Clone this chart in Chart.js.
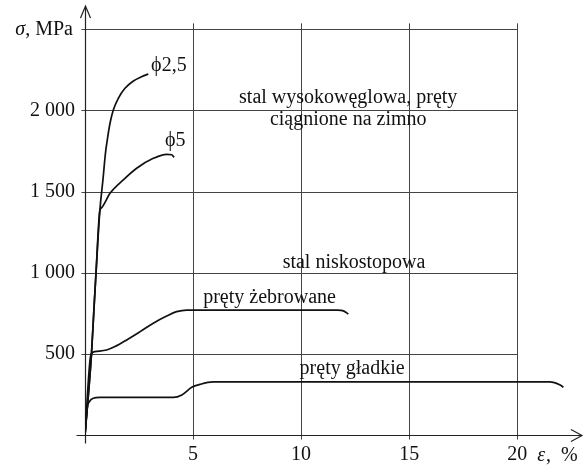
<!DOCTYPE html>
<html>
<head>
<meta charset="utf-8">
<script src="https://cdn.jsdelivr.net/npm/chart.js@4"></script>
<style>
  html, body { margin: 0; padding: 0; background: #fff; }
  #wrap { width: 584px; height: 466px; position: relative; }
</style>
</head>
<body>
<div id="wrap"><canvas id="chart"></canvas></div>
<script>
// strain ε (%) and stress σ (MPa)
var phi25Eps   = [0, 0.30, 0.42, 0.51, 0.69, 0.83, 0.95, 1.03, 1.16, 1.31, 1.54, 1.85, 2.24, 2.62, 2.93];
var phi25Sigma = [0, 500, 790, 1000, 1387, 1572, 1740, 1818, 1923, 2003, 2075, 2137, 2182, 2208, 2225];

var phi5Eps   = [0, 0.30, 0.42, 0.51, 0.69, 0.74, 1.16, 1.77, 2.39, 3.16, 3.78, 4.01, 4.12];
var phi5Sigma = [0, 500, 790, 1000, 1387, 1397, 1490, 1572, 1644, 1705, 1730, 1727, 1711];

var ribbedEps   = [0, 0.27, 0.46, 1.00, 1.39, 1.93, 2.55, 3.16, 3.78, 4.24, 4.71, 11.70, 11.96, 12.19];
var ribbedSigma = [0, 493, 514, 524, 545, 586, 637, 689, 733, 760, 770, 770, 765, 746];

var plainEps   = [0, 0.11, 0.20, 0.38, 0.69, 4.09, 4.48, 4.94, 5.32, 5.93, 21.50, 21.99, 22.14];
var plainSigma = [0, 174, 205, 226, 232, 232, 247, 294, 312, 327, 327, 308, 294];

var xTicks = [5, 10, 15, 20];
var yTicks = [0, 500, 1000, 1500, 2000, 2500];

function pairs(xs, ys) {
    return xs.map(function (x, i) { return { x: x, y: ys[i] }; });
}

function spaced(v) {
    return String(v).replace(/\B(?=(\d{3})+(?!\d))/g, ' ');
}

var serif = '"Liberation Serif", "Times New Roman", serif';
Chart.defaults.font.family = serif;
Chart.defaults.font.size = 20;
Chart.defaults.color = '#111';

// text placed in data units so it follows the scales
var notes = [
    { t: 'ϕ2,5', x: 3.06, y: 2243, align: 'left' },
    { t: 'ϕ5', x: 3.70, y: 1781, align: 'left' },
    { t: 'stal wysokowęglowa, pręty', x: 12.18, y: 2046, align: 'center' },
    { t: 'ciągnione na zimno', x: 12.18, y: 1910, align: 'center' },
    { t: 'stal niskostopowa', x: 12.45, y: 1029, align: 'center' },
    { t: 'pręty żebrowane', x: 8.54, y: 813, align: 'center' },
    { t: 'pręty gładkie', x: 12.36, y: 376, align: 'center' }
];

var frame = {
    id: 'frame',
    beforeDatasetsDraw: function (chart) {
        var ctx = chart.ctx, xs = chart.scales.x, ys = chart.scales.y;
        var x0 = Math.round(xs.getPixelForValue(0)) + 0.5;
        var xEnd = xs.getPixelForValue(xTicks[xTicks.length - 1]);
        var y0 = Math.round(ys.getPixelForValue(0)) + 0.5;
        var yTop = ys.getPixelForValue(yTicks[yTicks.length - 1]);

        ctx.save();
        ctx.strokeStyle = '#444';
        ctx.lineWidth = 1;
        ctx.beginPath();
        yTicks.forEach(function (v) {
            if (v === 0) return;
            var y = Math.round(ys.getPixelForValue(v)) + 0.5;
            ctx.moveTo(x0 - 4, y);
            ctx.lineTo(xEnd, y);
        });
        xTicks.forEach(function (v) {
            var x = Math.round(xs.getPixelForValue(v)) + 0.5;
            ctx.moveTo(x, yTop - 6);
            ctx.lineTo(x, y0 + 4);
        });
        ctx.stroke();

        // axes with open arrow heads
        ctx.strokeStyle = '#222';
        ctx.lineWidth = 1.2;
        ctx.beginPath();
        ctx.moveTo(x0, y0 + 8);
        ctx.lineTo(x0, ys.top + 1);
        ctx.moveTo(x0 - 5, ys.top + 13);
        ctx.lineTo(x0, ys.top + 1);
        ctx.lineTo(x0 + 5, ys.top + 13);
        ctx.moveTo(x0 - 9, y0);
        ctx.lineTo(xs.right, y0);
        ctx.moveTo(xs.right - 11, y0 - 6);
        ctx.lineTo(xs.right, y0);
        ctx.lineTo(xs.right - 11, y0 + 6);
        ctx.stroke();
        ctx.restore();
    },
    afterDraw: function (chart) {
        var ctx = chart.ctx, xs = chart.scales.x, ys = chart.scales.y;
        ctx.save();
        ctx.fillStyle = '#111';
        ctx.textBaseline = 'alphabetic';
        ctx.font = '20px ' + serif;
        notes.forEach(function (n) {
            ctx.textAlign = n.align;
            ctx.fillText(n.t, xs.getPixelForValue(n.x), ys.getPixelForValue(n.y));
        });

        // axis titles
        var x0 = xs.getPixelForValue(0);
        var yTop = ys.getPixelForValue(yTicks[yTicks.length - 1]);
        ctx.textAlign = 'left';
        var rest = ', MPa';
        var restW = ctx.measureText(rest).width;
        var rx = x0 - 12 - restW;
        ctx.fillText(rest, rx, yTop + 6);
        ctx.font = 'italic 20px ' + serif;
        var sw = ctx.measureText('σ').width;
        ctx.fillText('σ', rx - sw, yTop + 6);

        var ex = xs.getPixelForValue(xTicks[xTicks.length - 1]) + 20;
        var ey = ys.getPixelForValue(0) + 26;
        ctx.fillText('ε', ex, ey);
        var ew = ctx.measureText('ε').width;
        ctx.font = '20px ' + serif;
        ctx.fillText(',  %', ex + ew + 1, ey);
        ctx.restore();
    }
};

function curve(data) {
    return {
        data: data,
        borderColor: '#111',
        borderWidth: 1.7,
        pointRadius: 0,
        fill: false,
        cubicInterpolationMode: 'monotone'
    };
}

new Chart(document.getElementById('chart'), {
    type: 'line',
    data: {
        datasets: [
            curve(pairs(phi25Eps, phi25Sigma)),
            curve(pairs(phi5Eps, phi5Sigma)),
            curve(pairs(ribbedEps, ribbedSigma)),
            curve(pairs(plainEps, plainSigma))
        ]
    },
    options: {
        responsive: true,
        maintainAspectRatio: false,
        animation: false,
        layout: { padding: { top: 5, right: 2, left: 0, bottom: 0 } },
        plugins: {
            legend: { display: false },
            tooltip: { enabled: false }
        },
        scales: {
            x: {
                type: 'linear',
                min: 0,
                max: 23,
                grid: { display: false, drawTicks: false },
                border: { display: false },
                afterBuildTicks: function (scale) {
                    scale.ticks = xTicks.map(function (v) { return { value: v }; });
                },
                afterFit: function (scale) {
                    scale.height = 31;
                    scale.paddingLeft = 0;
                    scale.paddingRight = 0;
                },
                ticks: { padding: 8, maxRotation: 0, color: '#111' }
            },
            y: {
                type: 'linear',
                min: 0,
                max: 2650,
                grid: { display: false, drawTicks: false },
                border: { display: false },
                afterBuildTicks: function (scale) {
                    scale.ticks = yTicks.map(function (v) { return { value: v }; });
                },
                afterFit: function (scale) {
                    scale.width = 85;
                    scale.paddingTop = 0;
                    scale.paddingBottom = 0;
                },
                ticks: {
                    padding: 10,
                    color: '#111',
                    callback: function (v) {
                        return (v === 0 || v === 2500) ? '' : spaced(v);
                    }
                }
            }
        }
    },
    plugins: [frame]
});
</script>
</body>
</html>
